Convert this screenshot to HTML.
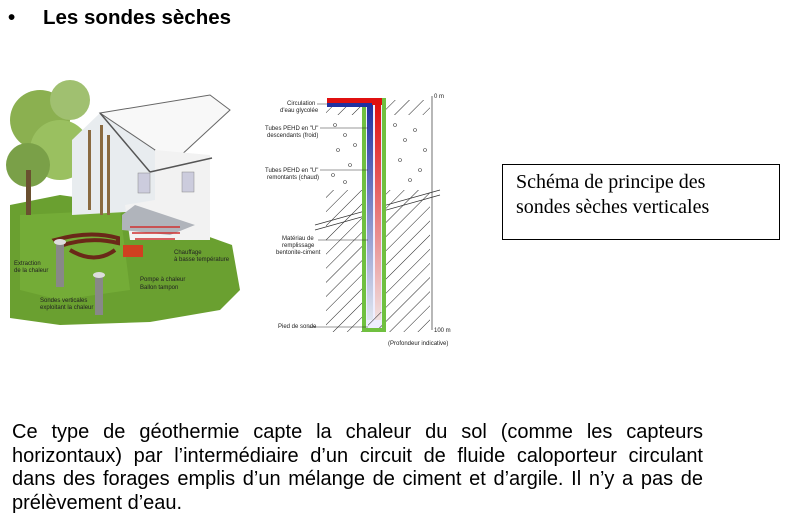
<!DOCTYPE html>
<html><head><meta charset="utf-8">
<style>
body{margin:0;width:789px;height:524px;background:#fff;position:relative;overflow:hidden;font-family:"Liberation Sans",Arial,sans-serif}
.t{position:absolute;font-weight:bold;font-size:20.5px;top:6px}
.box{position:absolute;left:502px;top:164px;width:278px;height:76px;border:1.5px solid #000;font-family:"Liberation Serif",serif;font-size:20px;line-height:25px;box-sizing:border-box;padding:5px 0 0 13px}
.p{position:absolute;left:12px;top:421px;width:691px;font-size:20px;line-height:23.7px}
.p div{text-align:justify;text-align-last:justify;white-space:nowrap}
.p div.l{text-align-last:left}
svg{position:absolute;left:0;top:0}
.s{font-family:"Liberation Sans",sans-serif;font-size:6px;fill:#222}
</style></head><body>
<div class="t" style="left:8px">•</div>
<div class="t" style="left:43px">Les sondes sèches</div>
<svg width="789" height="524">
<defs>
<pattern id="h" width="10" height="10" patternUnits="userSpaceOnUse" patternTransform="rotate(45)"><line x1="0" y1="0" x2="0" y2="10" stroke="#222" stroke-width="1"/></pattern>
<linearGradient id="b" x1="0" y1="0" x2="0" y2="1"><stop offset="0" stop-color="#2030a0"/><stop offset="1" stop-color="#e0e6f0"/></linearGradient>
<linearGradient id="r" x1="0" y1="0" x2="0" y2="1"><stop offset="0" stop-color="#e01010"/><stop offset="1" stop-color="#f0e0e0"/></linearGradient>
</defs>
<polygon points="10,205 60,195 130,205 190,230 232,245 240,290 220,310 150,322 60,325 10,318" fill="#6aa030"/>
<polygon points="20,215 120,210 130,290 60,300 20,290" fill="#7bb43c" opacity=".6"/>
<circle cx="40" cy="120" r="30" fill="#8bb050"/><circle cx="60" cy="150" r="30" fill="#9ac060"/><circle cx="28" cy="165" r="22" fill="#7aa048"/><circle cx="70" cy="100" r="20" fill="#a0c070"/>
<rect x="26" y="170" width="5" height="45" fill="#6a5030"/>
<polygon points="72,140 100,113 160,140 160,210 72,215" fill="#e8ecef"/>
<polygon points="100,113 210,95 230,110 165,170 155,150" fill="#f8f8f8" stroke="#666" stroke-width="1"/>
<polygon points="155,150 210,155 210,240 130,240 125,205 155,200" fill="#f2f2f2"/>
<line x1="100" y1="113" x2="150" y2="172" stroke="#555" stroke-width="1.5"/>
<line x1="150" y1="172" x2="212" y2="158" stroke="#555" stroke-width="1.5"/>
<rect x="88" y="130" width="3" height="80" fill="#8a6a40"/><rect x="100" y="125" width="3" height="90" fill="#8a6a40"/><rect x="107" y="135" width="3" height="80" fill="#8a6a40"/>
<rect x="138" y="173" width="12" height="20" fill="#ccd" stroke="#888" stroke-width=".5"/><rect x="182" y="172" width="12" height="20" fill="#ccd" stroke="#888" stroke-width=".5"/>
<polygon points="122,215 135,205 195,225 170,235 122,230" fill="#b0b4bb"/>
<path d="M130 227 h50 M132 233 h48 M135 239 h40" stroke="#d03030" stroke-width="1.5"/>
<rect x="123" y="245" width="20" height="12" fill="#d04020"/>
<path d="M55 240 Q90 230 118 238 L118 243 Q90 236 60 246 Z M70 250 Q95 265 115 250" stroke="#6a2818" stroke-width="4" fill="none"/>
<rect x="56" y="242" width="8" height="45" fill="#888"/><ellipse cx="60" cy="242" rx="6" ry="3" fill="#ddd"/>
<rect x="95" y="275" width="8" height="40" fill="#888"/><ellipse cx="99" cy="275" rx="6" ry="3" fill="#ddd"/>
<text class="s" x="14" y="265">Extraction</text><text class="s" x="14" y="272">de la chaleur</text>
<text class="s" x="40" y="302">Sondes verticales</text><text class="s" x="40" y="309">exploitant la chaleur</text>
<text class="s" x="174" y="254">Chauffage</text><text class="s" x="174" y="261">à basse température</text>
<text class="s" x="140" y="281">Pompe à chaleur</text><text class="s" x="140" y="289">Ballon tampon</text>
<rect x="326" y="100" width="104" height="232" fill="url(#h)"/>
<rect x="326" y="115" width="104" height="75" fill="#fff"/>
<g fill="none" stroke="#444" stroke-width=".6">
<circle cx="335" cy="125" r="1.5"/><circle cx="345" cy="135" r="1.5"/><circle cx="338" cy="150" r="1.5"/><circle cx="350" cy="165" r="1.5"/><circle cx="333" cy="175" r="1.5"/><circle cx="355" cy="145" r="1.5"/><circle cx="395" cy="125" r="1.5"/><circle cx="405" cy="140" r="1.5"/><circle cx="415" cy="130" r="1.5"/><circle cx="400" cy="160" r="1.5"/><circle cx="420" cy="170" r="1.5"/><circle cx="410" cy="180" r="1.5"/><circle cx="345" cy="182" r="1.5"/><circle cx="425" cy="150" r="1.5"/>
</g>
<path d="M315 225 L440 190 M315 230 L440 195" stroke="#333" stroke-width=".8" fill="none"/>
<rect x="362" y="98" width="24" height="234" fill="#70c040"/>
<rect x="366" y="100" width="16" height="228" fill="#eef"/>
<rect x="367" y="105" width="6" height="215" fill="url(#b)"/>
<rect x="375" y="105" width="6" height="215" fill="url(#r)"/>
<rect x="327" y="98" width="55" height="7" fill="#e01010"/>
<rect x="327" y="103" width="45" height="4" fill="#2030a0"/>
<rect x="368" y="312" width="14" height="16" fill="url(#h)"/>
<line x1="432" y1="96" x2="432" y2="330" stroke="#333" stroke-width=".7"/>
<text class="s" x="434" y="98">0 m</text><text class="s" x="434" y="332">100 m</text>
<text class="s" x="388" y="345">(Profondeur indicative)</text>
<text class="s" x="287" y="105">Circulation</text><text class="s" x="280" y="112">d'eau glycolée</text>
<text class="s" x="265" y="130">Tubes PEHD en "U"</text><text class="s" x="267" y="137">descendants (froid)</text>
<text class="s" x="265" y="172">Tubes PEHD en "U"</text><text class="s" x="267" y="179">remontants (chaud)</text>
<text class="s" x="282" y="240">Matériau de</text><text class="s" x="282" y="247">remplissage</text><text class="s" x="276" y="254">bentonite-ciment</text>
<text class="s" x="278" y="328">Pied de sonde</text>
<path d="M317 104 H327 M320 128 H368 M320 170 H368 M318 240 H368 M308 327 H368" stroke="#333" stroke-width=".5"/>
</svg>
<div class="box">Schéma de principe des<br>sondes sèches verticales</div>
<div class="p">
<div>Ce type de géothermie capte la chaleur du sol (comme les capteurs</div>
<div>horizontaux) par l’intermédiaire d’un circuit de fluide caloporteur circulant</div>
<div>dans des forages emplis d’un mélange de ciment et d’argile. Il n’y a pas de</div>
<div class="l">prélèvement d’eau.</div>
</div>
</body></html>
